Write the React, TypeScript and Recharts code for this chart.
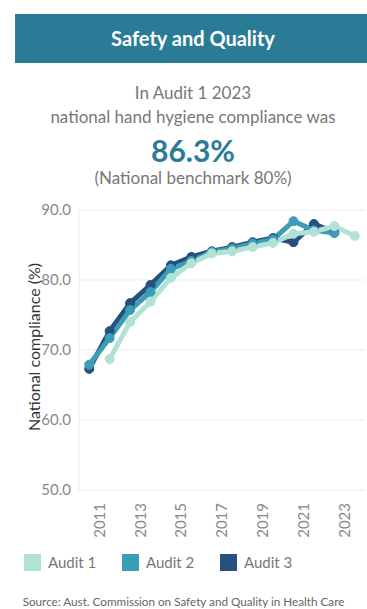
import { LineChart, Line, XAxis, YAxis, CartesianGrid, Label } from "recharts";

const years = [2010, 2011, 2012, 2013, 2014, 2015, 2016, 2017, 2018, 2019, 2020, 2021, 2022, 2023];
const audit1 = [null, 68.7, 74.0, 76.9, 80.3, 82.4, 83.8, 84.1, 84.7, 85.3, 86.6, 86.9, 87.7, 86.3];
const audit2 = [67.9, 71.7, 75.7, 78.3, 81.6, 82.7, 84.0, 84.5, 85.2, 85.8, 88.4, 87.1, 86.7, null];
const audit3 = [67.3, 72.7, 76.7, 79.3, 82.1, 83.3, 84.1, 84.7, 85.4, 86.0, 85.4, 88.0, 86.8, null];
const yearTicks = [2011, 2013, 2015, 2017, 2019, 2021, 2023];
const yTicks = [50, 60, 70, 80, 90];

const series = [
  { key: "a1", name: "Audit 1", color: "#b2e2d6" },
  { key: "a2", name: "Audit 2", color: "#3b9db6" },
  { key: "a3", name: "Audit 3", color: "#27507e" },
];

// points sit mid-year, ticks at start of year
const data = years.map((y, i) => ({ x: y + 0.5, a1: audit1[i], a2: audit2[i], a3: audit3[i] }));

const font = "Lato, 'Open Sans', sans-serif";

const YearTick = (p: any) => (
  <g transform={`translate(${p.x},${p.y})`}>
    <text transform="rotate(-90)" x={-5} y={0} dy="0.35em" textAnchor="end" fontSize={15} fill="#888" fontFamily={font}>
      {p.payload.value}
    </text>
  </g>
);

export default function App() {
  // draw dark first so lighter audits sit on top
  const drawOrder = [...series].reverse();
  return (
    <div style={{ position: "absolute", left: 0, top: 0, width: 367, height: 609, overflow: "hidden", background: "#fff", fontFamily: font }}>
      <div style={{ position: "absolute", left: 15, top: 14, width: 356, height: 49, background: "#2a7b95", color: "#fff", fontWeight: 700, fontSize: 20, lineHeight: "49px", textAlign: "center" }}>
        Safety and Quality
      </div>
      <div style={{ position: "absolute", left: 15, width: 356, top: 81, textAlign: "center", color: "#777", fontSize: 17, lineHeight: "24px" }}>
        <div>In Audit 1 2023</div>
        <div>national hand hygiene compliance was</div>
      </div>
      <div style={{ position: "absolute", left: 15, width: 356, top: 131, textAlign: "center", color: "#2a7b95", fontSize: 30, fontWeight: 700, lineHeight: "38px" }}>
        86.3%
      </div>
      <div style={{ position: "absolute", left: 15, width: 356, top: 166, textAlign: "center", color: "#777", fontSize: 17, lineHeight: "24px" }}>
        (National benchmark 80%)
      </div>

      <div style={{ position: "absolute", left: 0, top: 200 }}>
        <LineChart width={367} height={340} data={data} margin={{ top: 10, right: 2, bottom: 0, left: 0 }}>
          <CartesianGrid vertical={false} stroke="#ededed" />
          <XAxis dataKey="x" type="number" domain={[2010, 2024]} ticks={yearTicks} axisLine={false} tickLine={false} height={50} tick={<YearTick />} interval={0} />
          <YAxis domain={[50, 90]} ticks={yTicks} width={79} axisLine={{ stroke: "#ececec" }} tickLine={false} tickMargin={2}
            tick={{ fontSize: 15, fill: "#888", fontFamily: font }} tickFormatter={(v: number) => v.toFixed(1)}>
            <Label content={() => (
              <text x={33} y={147} transform="rotate(-90 33 147)" textAnchor="middle" dominantBaseline="central" fontSize={16} fill="#333" fontFamily={font}>
                National compliance (%)
              </text>
            )} />
          </YAxis>
          {drawOrder.map(s => (
            <Line key={s.key} dataKey={s.key} name={s.name} stroke={s.color} strokeWidth={5} type="linear"
              dot={{ r: 4.5, fill: s.color, stroke: s.color, strokeWidth: 1 }} activeDot={false} isAnimationActive={false} />
          ))}
        </LineChart>
      </div>

      <div style={{ position: "absolute", left: 24, top: 553, display: "flex" }}>
        {series.map(s => (
          <div key={s.key} style={{ display: "flex", alignItems: "center", width: 98 }}>
            <div style={{ width: 17, height: 17, background: s.color }} />
            <span style={{ marginLeft: 7, fontSize: 15, color: "#777" }}>{s.name}</span>
          </div>
        ))}
      </div>

      <div style={{ position: "absolute", left: 0, width: 367, top: 594, textAlign: "center", fontSize: 11.7, lineHeight: "14px", color: "#666" }}>
        Source: Aust. Commission on Safety and Quality in Health Care
      </div>
    </div>
  );
}
